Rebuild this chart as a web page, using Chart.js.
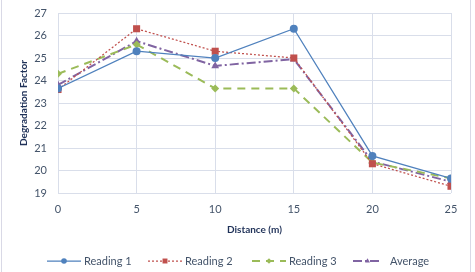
<!DOCTYPE html>
<html>
<head>
<meta charset="utf-8">
<script src="https://cdn.jsdelivr.net/npm/chart.js@4"></script>
<style>
html,body{margin:0;padding:0;background:#fff;}
#wrap{width:475px;height:272px;position:relative;}
</style>
</head>
<body>
<div id="wrap"><canvas id="c" width="475" height="272"></canvas></div>
<script>
const distances = [0, 5, 10, 15, 20, 25];
const reading1 = [23.65, 25.3, 25.0, 26.3, 20.65, 19.65];
const reading2 = [23.6, 26.3, 25.3, 25.0, 20.3, 19.3];
const reading3 = [24.3, 25.6, 23.65, 23.65, 20.35, 19.65];
const average = [23.8, 25.75, 24.65, 24.95, 20.4, 19.5];
const seriesNames = ['Reading 1', 'Reading 2', 'Reading 3', 'Average'];
const yTicks = [19, 20, 21, 22, 23, 24, 25, 26, 27];
const xTicks = [0, 5, 10, 15, 20, 25];

const FONT = 'Lato, "Open Sans", sans-serif';
const TXT = '#44546A';
const TITLE = '#1F3158';
const GRID = '#D9DEEA';

function pts(vals){ return distances.map((d,i)=>({x:d,y:vals[i]})); }

const styles = [
  {color:'#4F81BD', dash:[], width:1.25, point:'circle', r:4},
  {color:'#C0504D', dash:[2,2], width:1.25, point:'rect', r:5},
  {color:'#9BBB59', dash:[8,6], width:2, point:'rectRot', r:4},
  {color:'#8064A2', dash:[9,3,2,3], width:2, point:'triangle', r:4.5}
];
const allVals = [reading1, reading2, reading3, average];

const datasets = allVals.map((v,i)=>({
  label: seriesNames[i],
  data: pts(v),
  borderColor: styles[i].color,
  backgroundColor: styles[i].color,
  borderWidth: styles[i].width,
  borderDash: styles[i].dash,
  pointStyle: styles[i].point,
  pointRadius: styles[i].r,
  pointBorderWidth: 0,
  pointBackgroundColor: styles[i].color,
  tension: 0,
  fill: false
}));

const legendPlugin = {
  id: 'customLegend',
  afterDraw(chart){
    const ctx = chart.ctx;
    ctx.save();
    ctx.strokeStyle = '#D9D9E6';
    ctx.lineWidth = 1;
    ctx.beginPath();
    ctx.moveTo(1.5, 0); ctx.lineTo(1.5, 272);
    ctx.moveTo(470.5, 0); ctx.lineTo(470.5, 272);
    ctx.stroke();
    const y = 261;
    const starts = [47, 148, 252, 353];
    ctx.font = '11px ' + FONT;
    ctx.textBaseline = 'middle';
    chart.data.datasets.forEach((ds,i)=>{
      const x0 = starts[i];
      const lw = i === 3 ? 29 : 34;
      ctx.strokeStyle = ds.borderColor;
      ctx.lineWidth = ds.borderWidth;
      ctx.setLineDash(ds.borderDash);
      ctx.beginPath();
      ctx.moveTo(x0, y); ctx.lineTo(x0+lw, y);
      ctx.stroke();
      ctx.setLineDash([]);
      ctx.fillStyle = ds.borderColor;
      ctx.strokeStyle = ds.borderColor;
      Chart.helpers.drawPoint(ctx, {pointStyle: ds.pointStyle, radius: ds.pointStyle === 'rect' ? 3.5 : 2.8, borderWidth: 0}, x0 + lw/2, y);
      ctx.fillStyle = TXT;
      ctx.textAlign = 'left';
      ctx.fillText(ds.label, x0 + lw + (i===3 ? 8 : 3), y);
    });
    ctx.restore();
  }
};

new Chart(document.getElementById('c'), {
  type: 'line',
  data: { datasets },
  options: {
    responsive: false,
    animation: false,
    layout: { padding: { left: 18, right: 24, top: 13, bottom: 36 } },
    plugins: { legend: { display: false }, tooltip: { enabled: false } },
    scales: {
      x: {
        type: 'linear',
        min: 0, max: 25,
        afterBuildTicks(scale){ scale.ticks = xTicks.map(v=>({value:v})); },
        grid: { color: GRID, drawTicks: false },
        border: { display: false },
        ticks: { color: TXT, font: { family: FONT, size: 11 }, padding: 10 },
        title: { display: true, text: 'Distance (m)', color: TITLE, font: { family: FONT, size: 10, weight: 'bold' }, padding: { top: 4, bottom: 0 } },
        afterFit(scale){ scale.height = 43; scale.paddingLeft = 0; scale.paddingRight = 0; }
      },
      y: {
        min: 19, max: 27,
        afterBuildTicks(scale){ scale.ticks = yTicks.map(v=>({value:v})); },
        grid: { color: GRID, drawTicks: false },
        border: { display: false },
        ticks: { color: TXT, font: { family: FONT, size: 11 }, padding: 11 },
        title: { display: true, text: 'Degradation Factor', color: TITLE, font: { family: FONT, size: 10, weight: 'bold' }, padding: { top: 0, bottom: 6 } },
        afterFit(scale){ scale.width = 40; scale.paddingTop = 0; scale.paddingBottom = 0; }
      }
    }
  },
  plugins: [legendPlugin]
});
</script>
</body>
</html>
